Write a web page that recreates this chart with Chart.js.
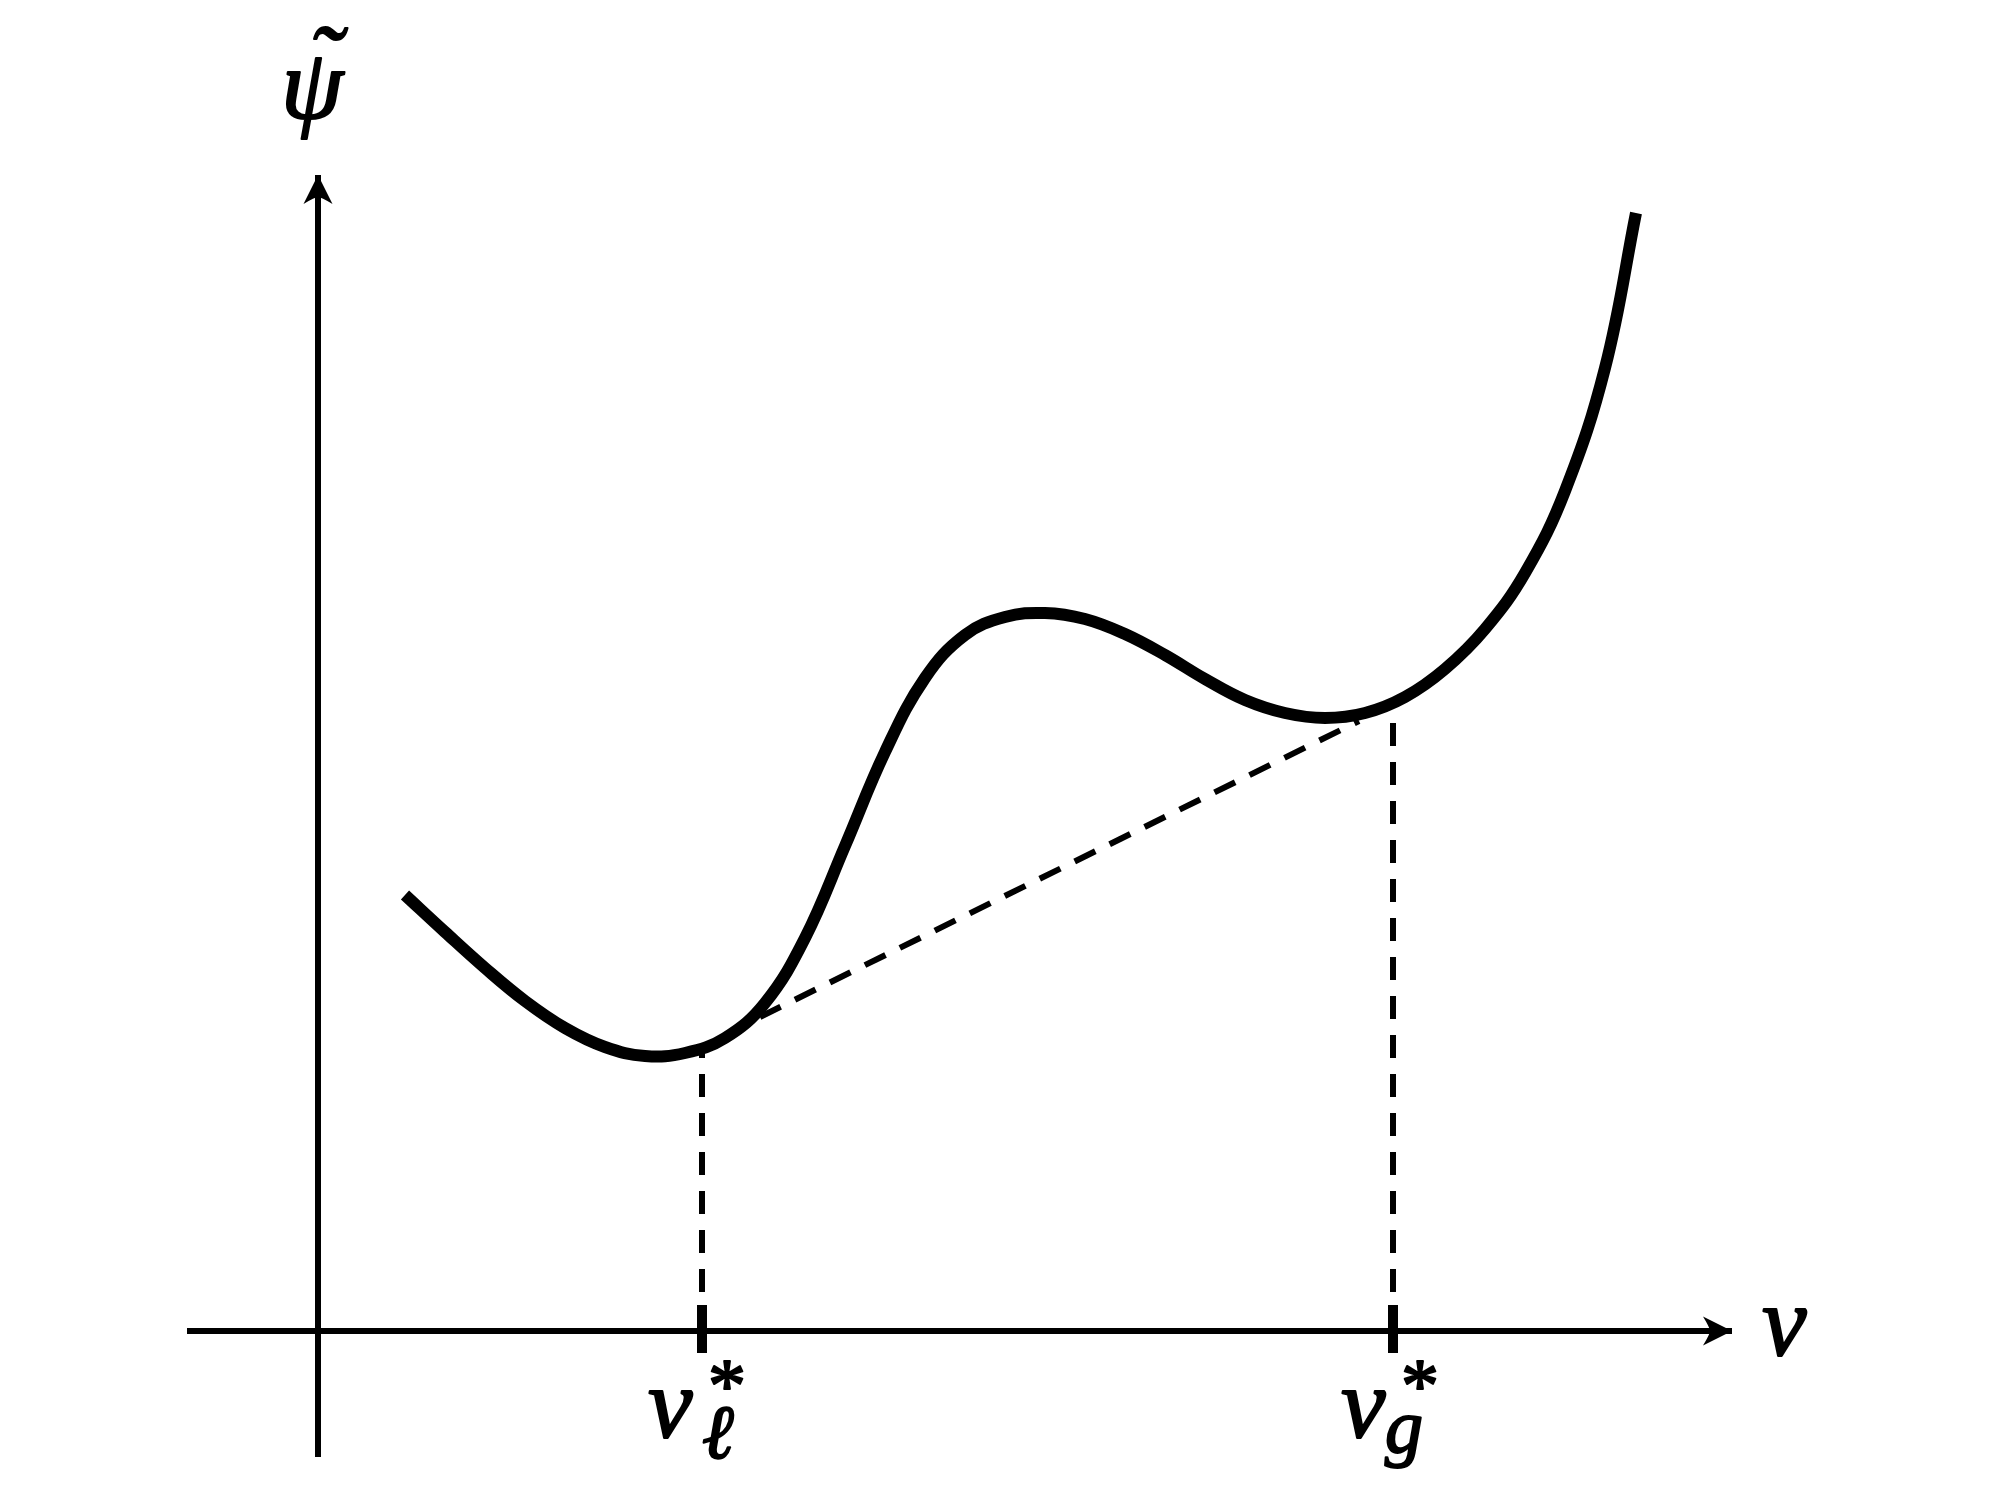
<!DOCTYPE html>
<html>
<head>
<meta charset="utf-8">
<script src="https://cdn.jsdelivr.net/npm/chart.js@4.4.1/dist/chart.umd.min.js"></script>
<style>
  html, body { margin: 0; padding: 0; background: #fff; }
  #wrap { width: 2000px; height: 1500px; }
</style>
</head>
<body>
<div id="wrap"><canvas id="graph" width="2000" height="1500"></canvas></div>
<script>
// free energy curve psi~(v) (arbitrary units)
const curveV   = [0.87, 1.27, 1.67, 2.07, 2.47, 2.87, 3.27, 3.67, 4.07, 4.47, 4.87, 5.27, 5.67, 6.07, 6.47, 6.87, 7.27, 7.67, 8.07, 8.47, 8.87, 9.27, 9.67, 10.07, 10.47, 10.87, 11.27, 11.67, 12.07, 12.47, 12.87, 13.18];
const curvePsi = [4.36, 3.99, 3.63, 3.30, 3.03, 2.84, 2.75, 2.78, 2.93, 3.28, 3.93, 4.85, 5.79, 6.53, 6.96, 7.14, 7.18, 7.12, 6.97, 6.76, 6.52, 6.31, 6.18, 6.13, 6.18, 6.34, 6.62, 7.02, 7.58, 8.40, 9.63, 11.18];

// coexistence volumes and the common tangent
const starV      = [3.84, 10.75];
const starPsi    = [2.84, 6.29];
const tangentV   = [4.42, 10.41];
const tangentPsi = [3.14, 6.10];

// axis extent
const vRange   = [-1.31, 14.14];
const psiRange = [-1.26, 11.56];
const tickHalf = [0.26, -0.22];

const labels = ['\u03C8', '\u02DC', 'v', 'v', '\u2113', 'g', '*'];

function pts(xs, ys) {
  return xs.map((x, i) => ({ x: x, y: ys[i] }));
}

const line = (data, width, dash) => ({
  data: data,
  borderColor: '#000',
  borderWidth: width,
  borderDash: dash || [],
  pointRadius: 0,
  fill: false,
  clip: false,
  tension: 0
});

const curve = line(pts(curveV, curvePsi), 12);
curve.tension = 0.4;

const datasets = [
  curve,
  line(pts(tangentV, tangentPsi), 6, [23, 16]),
  line(pts([starV[0], starV[0]], [0, starPsi[0]]), 6, [23, 16]),
  line(pts([starV[1], starV[1]], [0, starPsi[1]]), 6, [23, 16]),
  line(pts([starV[0], starV[0]], tickHalf), 10),
  line(pts([starV[1], starV[1]], tickHalf), 10),
  line(pts(vRange, [0, 0]), 6),
  line(pts([0, 0], psiRange), 6)
];

// arrow heads and math labels
const decor = {
  id: 'decor',
  afterDatasetsDraw(chart) {
    const c = chart.ctx;
    const xs = chart.scales.x, ys = chart.scales.y;
    const x0 = xs.getPixelForValue(0), y0 = ys.getPixelForValue(0);
    const xTip = xs.getPixelForValue(vRange[1]);
    const yTip = ys.getPixelForValue(psiRange[1]);

    function arrow(tx, ty, ang) {
      c.save();
      c.translate(tx, ty);
      c.rotate(ang);
      c.beginPath();
      c.moveTo(0, 0);
      c.lineTo(-29, -14.5);
      c.quadraticCurveTo(-22, -3, -22, 0);
      c.quadraticCurveTo(-22, 3, -29, 14.5);
      c.closePath();
      c.fillStyle = '#000';
      c.fill();
      c.restore();
    }
    arrow(xTip, y0, 0);
    arrow(x0, yTip, -Math.PI / 2);

    c.save();
    c.fillStyle = '#000';
    c.strokeStyle = '#000';
    c.lineWidth = 2;
    c.lineJoin = 'round';
    c.textBaseline = 'alphabetic';
    c.textAlign = 'left';
    const big = 'italic 100px "Liberation Serif"';
    const small = 'italic 76px "Liberation Serif"';
    const put = (s, x, y) => { c.fillText(s, x, y); c.strokeText(s, x, y); };

    c.font = big;
    put(labels[0], x0 - 37, 118);
    put(labels[1], x0 - 10, 95);
    put(labels[2], xTip + 30, 1355);

    const lx = xs.getPixelForValue(starV[0]);
    const gx = xs.getPixelForValue(starV[1]);
    put(labels[3], lx - 54, 1437);
    put(labels[3], gx - 52, 1437);
    c.font = small;
    put(labels[4], lx + 0, 1458);
    put(labels[5], gx - 8, 1452);
    c.font = '76px "Liberation Serif"';
    put(labels[6], lx + 6, 1411);
    put(labels[6], gx + 8, 1411);
    c.restore();
  }
};

new Chart(document.getElementById('graph'), {
  type: 'line',
  data: { datasets: datasets },
  options: {
    responsive: false,
    animation: false,
    devicePixelRatio: 1,
    layout: { padding: { left: 187, right: 268, top: 175, bottom: 43 } },
    plugins: { legend: { display: false }, tooltip: { enabled: false } },
    scales: {
      x: { type: 'linear', min: vRange[0], max: vRange[1], display: false },
      y: { type: 'linear', min: psiRange[0], max: psiRange[1], display: false }
    }
  },
  plugins: [decor]
});
</script>
</body>
</html>
